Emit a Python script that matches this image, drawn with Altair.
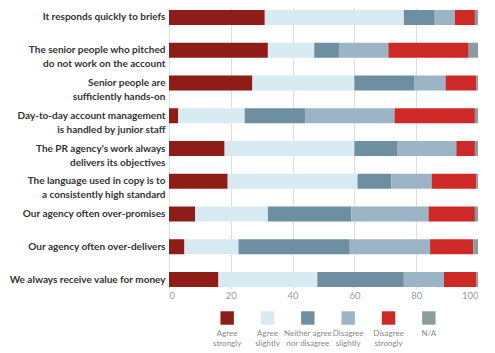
import altair as alt
import pandas as pd

statements = [
    "It responds quickly to briefs",
    "The senior people who pitched|do not work on the account",
    "Senior people are|sufficiently hands-on",
    "Day-to-day account management|is handled by junior staff",
    "The PR agency's work always|delivers its objectives",
    "The language used in copy is to|a consistently high standard",
    "Our agency often over-promises",
    "Our agency often over-delivers",
    "We always receive value for money",
]
responses = ["Agree strongly", "Agree slightly", "Neither agree nor disagree",
             "Disagree slightly", "Disagree strongly", "N/A"]
legend_labels = ["Agree|strongly", "Agree|slightly", "Neither agree|nor disagree",
                 "Disagree|slightly", "Disagree|strongly", "N/A"]
colors = ["#8e1c17", "#d8eaf2", "#6e8fa1", "#9bb5c6", "#cd2a27", "#8d9d9d"]

agree_strongly    = [31, 32, 27, 3, 18, 19, 8.5, 5, 16]
agree_slightly    = [45, 15, 33, 21.5, 42, 42, 23.5, 17.5, 32]
neither           = [10, 8, 19.5, 19.5, 14, 11, 27, 36, 28]
disagree_slightly = [6.5, 16, 10, 29, 19, 13, 25, 26, 13]
disagree_strongly = [6.5, 26, 10, 26, 6, 14.5, 15, 14, 10.5]
not_applicable    = [1, 3, 0.5, 1, 1, 0.5, 1, 1.5, 0.5]

series = [agree_strongly, agree_slightly, neither, disagree_slightly,
          disagree_strongly, not_applicable]

rows = []
for ri, resp in enumerate(responses):
    for si, st in enumerate(statements):
        rows.append({"statement": st, "response": resp, "order": ri,
                     "value": series[ri][si]})
df = pd.DataFrame(rows)

color_scale = alt.Scale(domain=responses, range=colors)
FONT = "Lato"

bars = alt.Chart(df).mark_bar(size=15).encode(
    y=alt.Y("statement:N", sort=statements, title=None,
            scale=alt.Scale(paddingInner=0.54, paddingOuter=0.06),
            axis=alt.Axis(labelExpr="split(datum.label, '|')", labelFont=FONT,
                          labelFontWeight="bold", labelFontSize=10, labelColor="#333333",
                          labelLineHeight=14, labelPadding=4, ticks=False, domain=False,
                          minExtent=158, maxExtent=158, labelLimit=300)),
    x=alt.X("value:Q", stack="zero", title=None,
            scale=alt.Scale(domain=[0, 100], nice=False),
            axis=alt.Axis(values=[0, 20, 40, 60, 80, 100], grid=True, gridColor="#dddddd",
                          ticks=False, domain=False, labelColor="#999999", labelFontSize=9.5,
                          labelFont=FONT, labelPadding=1)),
    color=alt.Color("response:N", scale=color_scale, legend=None),
    order=alt.Order("order:Q"),
).properties(width=309, height=281)

leg_df = pd.DataFrame({"response": responses, "label": legend_labels})
leg_x = alt.X("response:N", sort=responses, title=None, axis=None,
              scale=alt.Scale(type="point", range=[38, 280]))
swatches = alt.Chart(leg_df).mark_square(size=180, opacity=1).encode(
    x=leg_x,
    color=alt.Color("response:N", scale=color_scale, legend=None),
)
labels = alt.Chart(leg_df).mark_text(
    baseline="top", dy=12, fontSize=8, lineHeight=9.5, color="#888888",
    font=FONT, lineBreak="|"
).encode(x=leg_x, text="label:N")
legend = (swatches + labels).properties(width=309, height=36)

chart = alt.vconcat(bars, legend, spacing=0).properties(padding=0).configure_view(stroke=None)
chart.save("out.html", embed_options={"renderer": "svg", "actions": False})
